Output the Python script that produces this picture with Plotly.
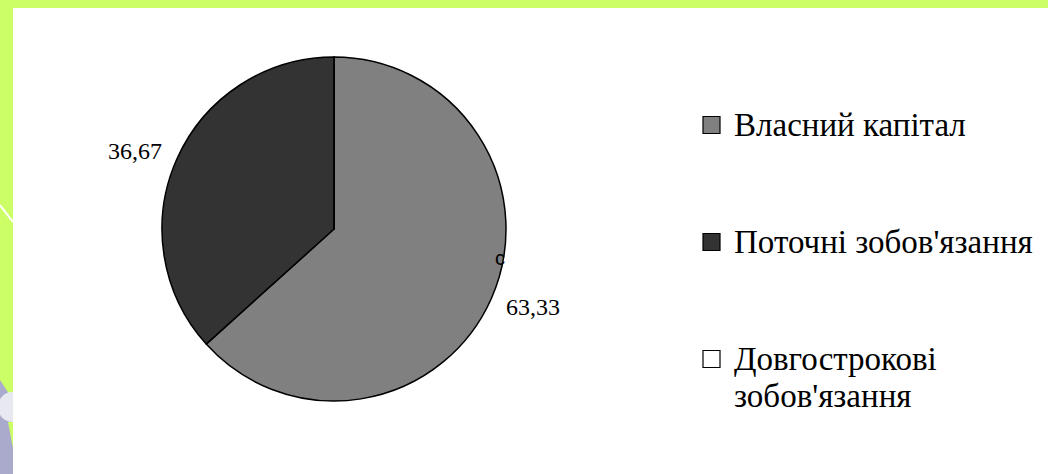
import math
import plotly.graph_objects as go

# ---- data ----
categories = ["Власний капітал", "Поточні зобов'язання", "Довгострокові<br>зобов'язання"]
values = [63.33, 36.67, 0.0]
value_labels = ["63,33", "36,67", ""]
colors = ["#808080", "#333333", "#FFFFFF"]

W, H = 1048, 474
SERIF = "'Liberation Serif', 'Times New Roman', 'DejaVu Serif', serif"

def px(x):
    return x / W

def py(y):
    return 1 - y / H

# pie geometry (pixels)
cx, cy, R = 334, 229, 172

fig = go.Figure()
fig.add_trace(go.Pie(
    labels=[c.replace("<br>", " ") for c in categories],
    values=values,
    sort=False,
    direction="clockwise",
    rotation=0,
    marker=dict(colors=colors, line=dict(color="#000000", width=1.5)),
    textinfo="none",
    hoverinfo="label+value",
    showlegend=False,
    domain=dict(x=[px(cx - R), px(cx + R)], y=[py(cy + R), py(cy - R)]),
))

annotations = []
shapes = []

# data labels placed from slice mid-angles
total = sum(values)
cum = 0.0
rx, ry = 218, 192
for v, lab in zip(values, value_labels):
    mid = (cum + v / 2) / total * 2 * math.pi
    cum += v
    if not lab:
        continue
    lx = cx + rx * math.sin(mid)
    ly = cy - ry * math.cos(mid)
    annotations.append(dict(
        x=px(lx), y=py(ly), xref="paper", yref="paper", text=lab, showarrow=False,
        xanchor="center", yanchor="middle",
        font=dict(family=SERIF, size=24, color="#000000"),
    ))

# stray small label seen on the pie edge
annotations.append(dict(
    x=px(500), y=py(258), xref="paper", yref="paper", text="c", showarrow=False,
    xanchor="center", yanchor="middle",
    font=dict(family="Liberation Sans", size=20, color="#000000"),
))

# manual legend
leg_y = [125, 242, 359]
for cat, col, yc in zip(categories, colors, leg_y):
    shapes.append(dict(
        type="rect", xref="paper", yref="paper",
        x0=px(703), x1=px(720), y0=py(yc + 8.5), y1=py(yc - 8.5),
        fillcolor=col, line=dict(color="#000000", width=1.2),
    ))
    for i, line in enumerate(cat.split("<br>")):
        annotations.append(dict(
            x=px(732), y=py(yc + i * 37), xref="paper", yref="paper", text=line, showarrow=False,
            xanchor="left", yanchor="middle", align="left",
            font=dict(family=SERIF, size=33, color="#000000"),
        ))

# slide decoration: green border (top and left)
green = "#CCFF66"
shapes.append(dict(type="rect", xref="paper", yref="paper", x0=0, x1=1, y0=py(8), y1=1,
                   fillcolor=green, line=dict(width=0), layer="above"))
shapes.append(dict(type="rect", xref="paper", yref="paper", x0=0, x1=px(13), y0=0, y1=1,
                   fillcolor=green, line=dict(width=0), layer="above"))
# white diagonal streak
shapes.append(dict(type="line", xref="paper", yref="paper", x0=0, y0=py(205), x1=px(13), y1=py(222),
                   line=dict(color="#FFFFFF", width=2), layer="above"))
# lavender shapes bottom-left
lav = "#AAAACC"
path = f"M 0,{py(380)} L {px(13)},{py(400)} L {px(13)},0 L 0,0 Z"
shapes.append(dict(type="path", xref="paper", yref="paper", path=path,
                   fillcolor=lav, line=dict(width=0), layer="above"))
# green wedge inside lavender
wedge = f"M {px(8)},{py(422)} L {px(13)},{py(422)} L {px(13)},{py(448)} Z"
shapes.append(dict(type="path", xref="paper", yref="paper", path=wedge,
                   fillcolor=green, line=dict(width=0), layer="above"))
# whitish sphere
shapes.append(dict(type="circle", xref="paper", yref="paper",
                   x0=px(-2), x1=px(26), y0=py(422), y1=py(392),
                   fillcolor="#E8E8F0", line=dict(width=0), layer="above"))
shapes.append(dict(type="rect", xref="paper", yref="paper", x0=px(13), x1=px(30), y0=py(430), y1=py(385),
                   fillcolor="#FFFFFF", line=dict(width=0), layer="above"))

fig.update_layout(
    width=W, height=H,
    margin=dict(l=0, r=0, t=0, b=0),
    paper_bgcolor="#FFFFFF",
    plot_bgcolor="#FFFFFF",
    shapes=shapes,
    annotations=annotations,
)

fig.write_html("out.html", config={"displayModeBar": False},
               post_script="document.body.style.margin='0';document.body.style.overflow='hidden';")
